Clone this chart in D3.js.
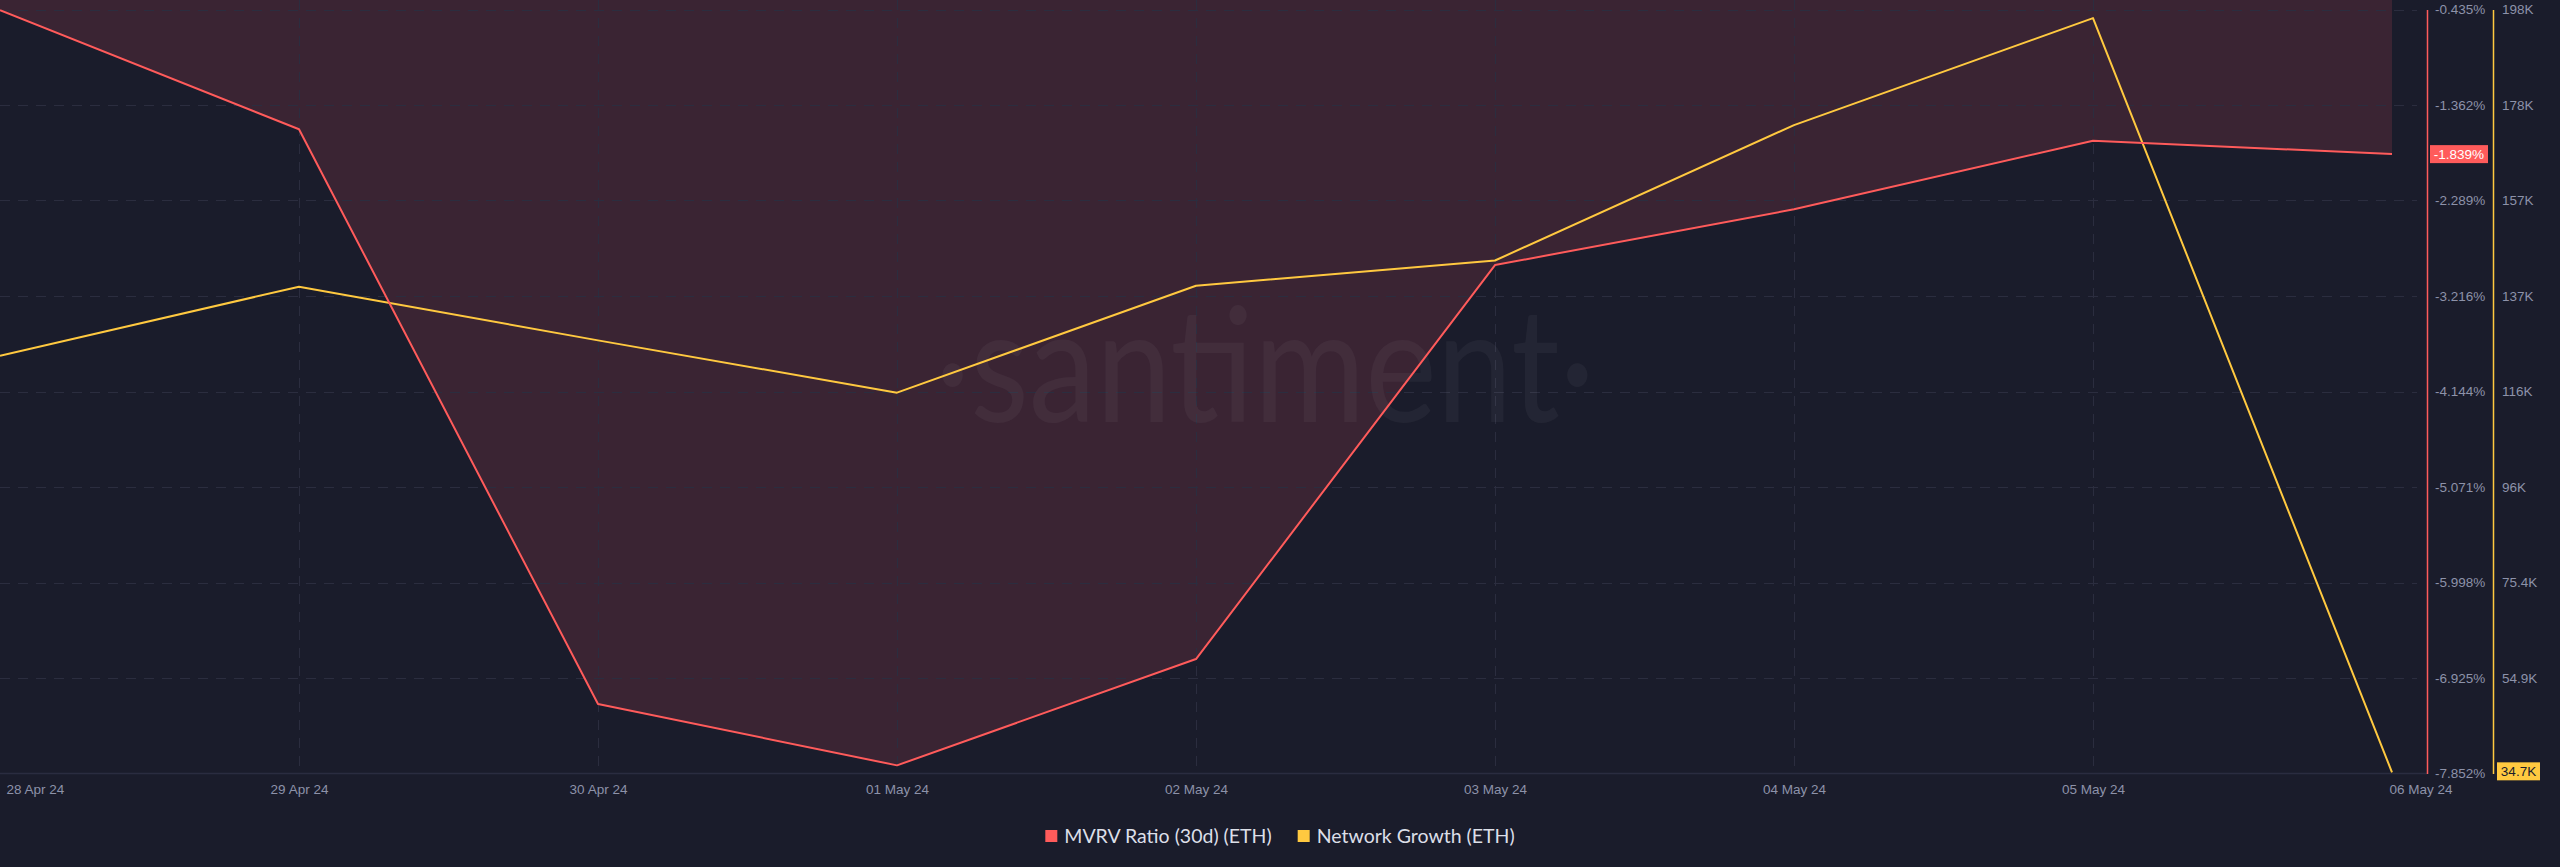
<!DOCTYPE html>
<html>
<head>
<meta charset="utf-8">
<script src="https://cdn.jsdelivr.net/npm/d3@7"></script>
<style>
  html, body { margin: 0; padding: 0; background: #1a1c2b; }
  svg { display: block; }
</style>
</head>
<body>
<svg id="chart" width="2560" height="867"></svg>
<script>
// ---- data ----
const dates = ["2024-04-28","2024-04-29","2024-04-30","2024-05-01","2024-05-02","2024-05-03","2024-05-04","2024-05-05","2024-05-06"];
const mvrv = [-0.442, -1.598, -7.178, -7.773, -6.741, -2.916, -2.375, -1.709, -1.839];
const networkGrowth = [123900, 138700, 127200, 116000, 138900, 144300, 173300, 196200, 34700];
const mvrvTicks = [-0.435, -1.362, -2.289, -3.216, -4.144, -5.071, -5.998, -6.925, -7.852];
const ngTickValues = [198050, 177600, 157150, 136700, 116250, 95800, 75350, 54900];
const ngTickLabels = ["198K", "178K", "157K", "137K", "116K", "96K", "75.4K", "54.9K"];
const seriesNames = ["MVRV Ratio (30d) (ETH)", "Network Growth (ETH)"];

// ---- layout / style ----
const W = 2560, H = 867;
const plotRight = 2392, plotTop = 9.5, plotBottom = 773.5;
const mvrvAxisX = 2427, ngAxisX = 2493;
const C = {
  bg: "#1a1c2b", fill: "#3a2433", red: "#ff5b5b", yellow: "#ffc940",
  grid: "#2b2d3f", axisText: "#8d92a9", legendText: "#dcdfe8", baseline: "#2a2c40"
};
const parse = d3.timeParse("%Y-%m-%d");
const data = dates.map((d, i) => ({ date: parse(d), m: mvrv[i], n: networkGrowth[i] }));

const svg = d3.select("#chart");
svg.append("rect").attr("width", W).attr("height", H).attr("fill", C.bg);

const x = d3.scaleTime().domain(d3.extent(data, d => d.date)).range([0, plotRight]);
const yM = d3.scaleLinear().domain([mvrvTicks[mvrvTicks.length - 1], mvrvTicks[0]]).range([plotBottom, plotTop]);
const yN = d3.scaleLinear().domain([34450, 198050]).range([plotBottom, plotTop]);

// area above the MVRV line
svg.append("path")
  .datum(data)
  .attr("fill", C.fill)
  .attr("d", d3.area().x(d => x(d.date)).y0(0).y1(d => yM(d.m)));

// grid
const grid = svg.append("g").attr("stroke", C.grid).attr("stroke-width", 1).attr("stroke-dasharray", "10,8");
grid.selectAll("line.h").data(mvrvTicks.slice(0, -1)).join("line")
  .attr("x1", 0).attr("x2", mvrvAxisX - 10)
  .attr("y1", d => Math.round(yM(d)) + 0.5).attr("y2", d => Math.round(yM(d)) + 0.5);
grid.selectAll("line.v").data(data.slice(1, -1)).join("line")
  .attr("x1", d => Math.round(x(d.date)) + 0.5).attr("x2", d => Math.round(x(d.date)) + 0.5)
  .attr("y1", 0).attr("y2", plotBottom);

// watermark
svg.append("text")
  .attr("x", 1265).attr("y", 422)
  .attr("text-anchor", "middle")
  .attr("font-family", "Lato, 'Open Sans', sans-serif")
  .attr("font-weight", 400)
  .attr("font-size", 160)
  .attr("fill", "#ffffff").attr("fill-opacity", 0.045)
  .attr("textLength", 660).attr("lengthAdjust", "spacingAndGlyphs")
  .text("·santiment·");

// baseline
svg.append("line").attr("x1", 0).attr("x2", mvrvAxisX)
  .attr("y1", plotBottom).attr("y2", plotBottom)
  .attr("stroke", C.baseline).attr("stroke-width", 1.5);

// lines
svg.append("path").datum(data)
  .attr("fill", "none").attr("stroke", C.yellow).attr("stroke-width", 2).attr("stroke-linejoin", "round")
  .attr("d", d3.line().x(d => x(d.date)).y(d => yN(d.n)));
svg.append("path").datum(data)
  .attr("fill", "none").attr("stroke", C.red).attr("stroke-width", 2).attr("stroke-linejoin", "round")
  .attr("d", d3.line().x(d => x(d.date)).y(d => yM(d.m)));

// bottom axis
const xAxis = svg.append("g").attr("transform", `translate(0,${plotBottom})`)
  .call(d3.axisBottom(x).tickValues(data.map(d => d.date)).tickSize(0).tickPadding(11)
    .tickFormat(d3.timeFormat("%d %b %y")));
xAxis.select(".domain").remove();
xAxis.selectAll("text")
  .attr("font-family", "'Liberation Sans', Arial, sans-serif").attr("font-size", 13.5).attr("fill", C.axisText);
xAxis.selectAll(".tick").filter((d, i) => i === 0).select("text").attr("text-anchor", "start").attr("x", 6);
xAxis.selectAll(".tick").filter((d, i) => i === data.length - 1).select("text").attr("text-anchor", "start").attr("x", -3);

// right axes
function styleAxis(g, color) {
  g.select(".domain").attr("stroke", color).attr("stroke-width", 1.5);
  g.selectAll(".tick line").remove();
  g.selectAll("text").attr("font-family", "'Liberation Sans', Arial, sans-serif")
    .attr("font-size", 13.5).attr("fill", C.axisText);
}
const mAxis = svg.append("g").attr("transform", `translate(${mvrvAxisX},0)`)
  .call(d3.axisRight(yM).tickValues(mvrvTicks).tickSize(0).tickPadding(8).tickSizeOuter(0)
    .tickFormat(d => d.toFixed(3) + "%"));
styleAxis(mAxis, C.red);
const nAxis = svg.append("g").attr("transform", `translate(${ngAxisX},0)`)
  .call(d3.axisRight(yN).tickValues(ngTickValues).tickSize(0).tickPadding(9).tickSizeOuter(0)
    .tickFormat((d, i) => ngTickLabels[i]));
styleAxis(nAxis, C.yellow);

// current value badges
const last = data[data.length - 1];
const mb = svg.append("g").attr("transform", `translate(${mvrvAxisX + 3},${yM(last.m)})`);
mb.append("rect").attr("x", 0).attr("y", -9).attr("width", 58).attr("height", 18).attr("fill", C.red);
mb.append("text").attr("x", 29).attr("y", 0).attr("dy", "0.35em").attr("text-anchor", "middle")
  .attr("font-family", "'Liberation Sans', Arial, sans-serif").attr("font-size", 13.5).attr("fill", "#ffffff")
  .text(last.m.toFixed(3) + "%");
const nb = svg.append("g").attr("transform", `translate(${ngAxisX + 4},${yN(last.n) - 1})`);
nb.append("rect").attr("x", 0).attr("y", -9).attr("width", 43).attr("height", 18).attr("fill", C.yellow);
nb.append("text").attr("x", 21.5).attr("y", 0).attr("dy", "0.35em").attr("text-anchor", "middle")
  .attr("font-family", "'Liberation Sans', Arial, sans-serif").attr("font-size", 13.5).attr("fill", "#1a1c2b")
  .text((last.n / 1000).toFixed(1) + "K");

// legend
const legend = svg.append("g");
let lx = 0;
[C.red, C.yellow].forEach((col, i) => {
  const g = legend.append("g").attr("transform", `translate(${lx},0)`);
  g.append("rect").attr("x", 0).attr("y", -6).attr("width", 12).attr("height", 12).attr("fill", col);
  const t = g.append("text").attr("x", 19).attr("y", 0).attr("dy", "0.35em")
    .attr("font-family", "Lato, 'Open Sans', sans-serif").attr("font-size", 19.5).attr("fill", C.legendText)
    .text(seriesNames[i]);
  lx += 19 + t.node().getComputedTextLength() + 26;
});
const lw = lx - 26;
legend.attr("transform", `translate(${1280 - lw / 2},836)`);
</script>
</body>
</html>
